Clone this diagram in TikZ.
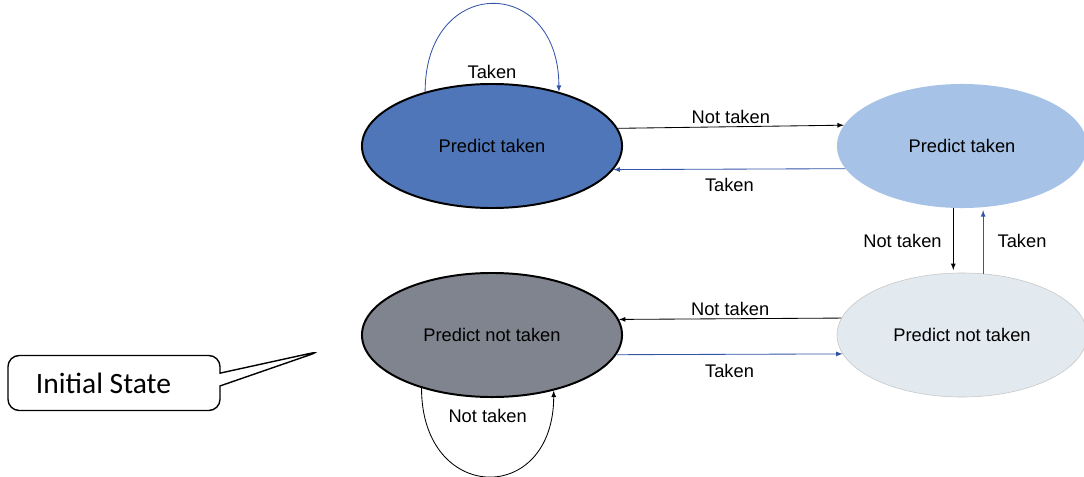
\documentclass[tikz,border=0pt]{standalone}
\usepackage{fontspec}
\setmainfont{Liberation Sans}
\newfontfamily\calloutfont{Carlito}
\usepackage{xcolor}
\usetikzlibrary{shapes.geometric}
\usetikzlibrary{shapes.callouts}
\usetikzlibrary{arrows,calc}

\definecolor{darkstate}{RGB}{80,118,186}
\definecolor{lightstate}{RGB}{166,194,230}
\definecolor{graystate}{RGB}{128,132,142}
\definecolor{palestate}{RGB}{226,233,239}
\definecolor{takenblue}{RGB}{52,84,168}

\begin{document}
\begin{tikzpicture} [
       x=0.025cm, y=0.025cm,
       state/.style={ellipse, text badly centered, inner sep=0pt,
               font=\fontsize{13}{15}\selectfont,
               minimum width=6.5cm, minimum height=3.1cm},
       strong/.style={state, draw=black, line width=1.4pt},
       texte/.style={font=\fontsize{13}{15}\selectfont, inner sep=2pt},
       line/.style     = { draw, line width=0.6pt, ->, >=latex },
       taken/.style    = { line, draw=takenblue },
       ]
       \useasboundingbox (0,0) rectangle (1084,476);
       \node (tl) [strong, fill=darkstate] at (492,330) {Predict taken};
       \node (tr) [state, fill=lightstate, minimum width=6.25cm] at (962,330) {Predict taken};
       \node (bl) [strong, fill=graystate] at (492,141) {Predict not taken};
       \node (br) [state, fill=palestate, draw=gray!45, minimum width=6.25cm] at (962,141) {Predict not taken};
       \node (init) [rectangle callout, draw, rounded corners=8pt, line width=1pt,
               minimum width=5.3cm, minimum height=1.375cm, inner xsep=0.7cm,
               callout absolute pointer={(321,125)}, callout pointer width=0.32cm,
               font=\calloutfont\fontsize{21}{25}\selectfont] at (114,93)
               {\makebox[3.9cm][l]{Initial State}};
        \path[line] (tl.8.7) -- (tr.170.9) node[texte, midway, above] {Not taken};
        \path[taken] (tr.191.8) -- (tl.-11.3) node[texte, midway, below=4pt, text=black] {Taken};
        \path[line, shorten >=2pt] (tr.-98.3) -- (br.98.3) node[texte, midway, left=6pt] {Not taken};
        \path[taken, shorten >=2pt] (br.71) -- (tr.-71) node[texte, midway, right=8pt, text=black] {Taken};
        \path[line] (br.172.5) -- (bl.7.3) node[texte, midway, above] {Not taken};
        \path[taken] (bl.-9.2) -- (br.189.6) node[texte, midway, below=5pt, text=black] {Taken};
        \path[taken] (tl.141) .. controls +(0,117) and +(0,117) .. (tl.39.6)
                node[texte, midway, below=1.45cm, text=black] {Taken};
        \path[line] (bl.217.3) .. controls +(0,-116) and +(0,-116) .. (bl.-42.5)
                node[texte, midway, above=1.25cm] {Not taken};
\end{tikzpicture}
\end{document}
